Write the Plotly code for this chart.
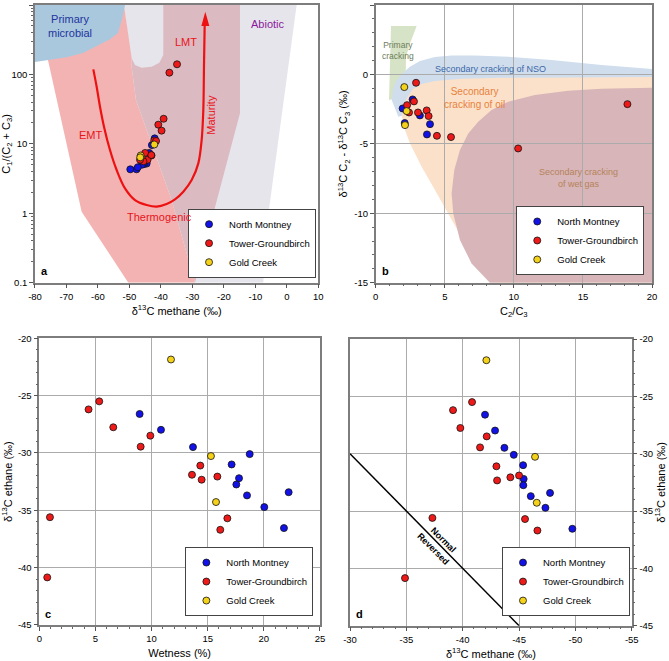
import math
import plotly.graph_objects as go

FONT = "Liberation Sans, Arial, sans-serif"

# ---------------- data ----------------
groups = ["North Montney", "Tower-Groundbirch", "Gold Creek"]
group_colors = ["#1212e8", "#ee1a1a", "#f5d21a"]

# North Montney
nm_wetness = [8.94, 10.84, 13.69, 18.74, 17.13, 17.79, 17.55, 22.21, 18.5, 20.04, 21.79]
nm_c1 = [-41.98, -42.87, -43.7, -44.53, -45.36, -45.41, -45.38, -47.75, -46.04, -47.34, -49.73]
nm_c2 = [-26.6, -27.98, -29.49, -30.1, -31.0, -32.2, -32.75, -33.42, -33.7, -34.72, -36.55]
nm_ratio = [12.0, 9.6, 7.4, 5.2, 5.4, 5.1, 5.3, 4.3, 5.0, 4.6, 4.3]

# Tower-Groundbirch
tg_wetness = [5.34, 4.39, 6.59, 9.89, 9.03, 14.34, 13.6, 15.86, 14.46, 0.95, 16.75, 16.12, 0.71]
tg_c1 = [-40.83, -39.14, -39.79, -42.13, -41.54, -42.99, -45.0, -44.23, -43.05, -37.31, -45.53, -46.63, -34.88]
tg_c2 = [-25.5, -26.2, -27.76, -28.49, -29.45, -31.1, -31.9, -32.06, -32.33, -35.6, -35.7, -36.7, -40.85]
tg_ratio = [18.9, 23.0, 15.5, 11.2, 11.0, 6.8, 7.4, 5.9, 6.9, 106.0, 5.6, 5.9, 140.0]

# Gold Creek
gc_wetness = [11.73, 15.29, 15.74]
gc_c1 = [-42.1, -46.42, -46.57]
gc_c2 = [-21.85, -30.27, -34.28]
gc_ratio = [9.8, 6.8, 6.4]

# panel b: C2/C3 and d13C C2 - d13C C3
nm_c2c3 = [2.67, 1.95, 3.2, 3.93, 2.1, 3.71]
nm_dc2c3 = [-1.8, -2.45, -2.95, -3.58, -3.5, -4.32]
tg_c2c3 = [2.92, 2.77, 2.27, 2.41, 3.06, 3.69, 3.83, 4.43, 5.45, 10.31, 18.22]
tg_dc2c3 = [-0.6, -1.94, -2.21, -2.74, -2.74, -2.59, -3.0, -4.42, -4.51, -5.33, -2.14]
gc_c2c3 = [2.07, 2.24, 2.12]
gc_dc2c3 = [-0.91, -2.64, -3.65]

# tick values / labels (hyphen-minus as in the original)
a_xticks = [-80, -70, -60, -50, -40, -30, -20, -10, 0, 10]
a_yticks = [0.1, 1, 10, 100, 1000]
a_ylabels = ["0.1", "1", "10", "100", "1000"]
b_xticks = [0, 5, 10, 15, 20]
b_yticks = [5, 0, -5, -10, -15]
c_xticks = [0, 5, 10, 15, 20, 25]
cd_yticks = [-20, -25, -30, -35, -40, -45]
d_xticks = [-30, -35, -40, -45, -50, -55]

# ---------------- genetic fields (panel a: d13C methane, C1/(C2+C3)) ----------------
microbial_x = [-80, -51.41, -52.15, -53.63, -56.18, -58.4, -61.47, -64.75, -69.94, -75.24, -80]
microbial_y = [1000, 1000, 679, 395, 320, 283.6, 237.6, 203.5, 176.2, 161.3, 151]

abiotic_x = [-51.73, 3.12, -6.41, -7.47, -29.18, -36.59, -47.92, -49.29]
abiotic_y = [1000, 1000, 0.641, 0.1, 0.1, 1.552, 42.8, 129.3]

thermo_x = [-79.47, -51.73, -49.29, -49.29, -47.92, -36.59, -29.18, -50.35, -65.18, -75.76]
thermo_y = [1000, 1000, 170.5, 129.3, 42.8, 1.552, 0.1, 0.1, 1.054, 152.7]

lmt_x = [-49.29, -48.23, -46.12, -42.94, -40.51, -39.24, -39.24, -14.88, -14.88, -29.18, -36.59, -47.92, -49.29]
lmt_y = [170.5, 136.7, 125.1, 129.3, 147.7, 190.4, 1000, 1000, 27.5, 0.1, 1.552, 42.8, 129.3]

maturity_x = [-61.47, -60.41, -59.35, -58.08, -56.18, -54.06, -51.41, -48.23, -44.53, -41.35,
              -38.18, -35.53, -32.88, -30.23, -28.12, -27.06, -26.53, -26.32, -26.1]
maturity_y = [118.4, 66.6, 34.3, 17.7, 8.15, 4.2, 2.285, 1.55, 1.315, 1.244,
              1.36, 1.587, 2.046, 3.01, 5.24, 11.36, 30.7, 129.3, 515]
arrow_x = [-27.16, -24.62, -25.9]
arrow_y = [498, 498, 802]

# ---------------- panel b fields (C2/C3, dC2-dC3) ----------------
primary_x = [1.108, 2.964, 2.482, 2.193, 2.169, 1.88, 0.964]
primary_y = [3.48, 3.48, 2.233, 1.273, -0.168, -1.6, -1.849]

nso_x = [1.157, 1.25, 1.45, 1.88, 2.482, 3.205, 4.289, 5.494, 7.181, 9.59, 12.72, 16.34, 20,
         20, 3.084, 2.12, 1.639]
nso_y = [-1.849, -1.1, -0.5, 0.024, 0.552, 0.96, 1.249, 1.369, 1.369, 1.273, 1.032, 0.672, 0.384,
         -0.408, -0.888, -2.929, -3.049]

oil_x = [1.88, 2.169, 2.651, 3.325, 4.289, 6.217, 9.108, 13.928, 20, 20,
         8.265, 6.699, 5.373, 4.289, 3.325, 2.482, 2.12]
oil_y = [-2.929, -1.849, -1.08, -0.696, -0.48, -0.312, -0.24, -0.216, -0.192, -15,
         -15, -12.533, -10.252, -8.331, -6.651, -4.97, -4.01]

wetgas_x = [20, 16.34, 13.93, 11.52, 9.59, 8.386, 7.422, 6.699, 6.096, 5.687, 5.494,
            5.614, 6.096, 6.94, 8.265, 20]
wetgas_y = [-0.96, -1.032, -1.176, -1.489, -1.969, -2.569, -3.41, -4.25, -5.45, -6.891, -8.571,
            -10.012, -11.933, -13.613, -15, -15]

# panel d: normal/reversed boundary (C1 = C2)
boundary_c1 = [-30, -45]
boundary_c2 = [-30, -45]

# ---------------- figure ----------------
fig = go.Figure()


def region(xs, ys, color, xa="x", ya="y"):
    fig.add_trace(go.Scatter(x=xs, y=ys, mode="lines", fill="toself", fillcolor=color,
                             line=dict(width=0, color=color), hoverinfo="skip",
                             showlegend=False, xaxis=xa, yaxis=ya))


region(abiotic_x, abiotic_y, "#e6e5ec")
region(thermo_x, thermo_y, "#f3b3b3")
region(lmt_x, lmt_y, "#dcbac1")
region(microbial_x, microbial_y, "#a9c8de")

fig.add_trace(go.Scatter(x=maturity_x, y=maturity_y, mode="lines",
                         line=dict(color="#ee1111", width=2.2, shape="spline"),
                         hoverinfo="skip", showlegend=False, xaxis="x", yaxis="y"))
region(arrow_x, arrow_y, "#ee1111")


def path(xs, ys):
    return "M " + " L ".join(f"{a},{b}" for a, b in zip(xs, ys)) + " Z"


shapes = []
for xs, ys, col in [(primary_x, primary_y, "#d6e3c6"), (nso_x, nso_y, "#cfdded"),
                    (oil_x, oil_y, "#fbe1ca"), (wetgas_x, wetgas_y, "#d8b5b8")]:
    shapes.append(dict(type="path", path=path(xs, ys), xref="x2", yref="y2",
                       fillcolor=col, line=dict(width=0), layer="below"))

panel_series = {
    "a": [(nm_c1, nm_ratio), (tg_c1, tg_ratio), (gc_c1, gc_ratio)],
    "b": [(nm_c2c3, nm_dc2c3), (tg_c2c3, tg_dc2c3), (gc_c2c3, gc_dc2c3)],
    "c": [(nm_wetness, nm_c2), (tg_wetness, tg_c2), (gc_wetness, gc_c2)],
    "d": [(nm_c1, nm_c2), (tg_c1, tg_c2), (gc_c1, gc_c2)],
}
axes_of = {"a": ("x", "y", "legend"), "b": ("x2", "y2", "legend2"),
           "c": ("x3", "y3", "legend3"), "d": ("x4", "y4", "legend4")}

fig.add_trace(go.Scatter(x=boundary_c1, y=boundary_c2, mode="lines",
                         line=dict(color="black", width=1.5), hoverinfo="skip",
                         showlegend=False, xaxis="x4", yaxis="y4"))

for p, series in panel_series.items():
    xa, ya, lg = axes_of[p]
    for (xs, ys), name, col in zip(series, groups, group_colors):
        fig.add_trace(go.Scatter(x=xs, y=ys, mode="markers", name=name,
                                 marker=dict(size=7, color=col, line=dict(color="#111", width=0.8)),
                                 xaxis=xa, yaxis=ya, legend=lg))

common = dict(showline=True, linecolor="#7d7d7d", linewidth=1.5, mirror=True,
              ticks="outside", ticklen=4, tickcolor="#555", tickfont=dict(size=9.5, color="black"),
              zeroline=False, automargin=False)
title_font = dict(size=11, color="black", family=FONT)
gridc = "#ababab"
minor_lin = dict(ticks="outside", ticklen=2, tickcolor="#666", tickmode="linear", tick0=0, dtick=1,
                 showgrid=False)


def ticks(vals, labels=None):
    return dict(tickmode="array", tickvals=vals, ticktext=labels or [str(v) for v in vals])


fig.update_layout(
    width=669, height=661, margin=dict(l=0, r=0, t=0, b=0),
    template="none", paper_bgcolor="white", plot_bgcolor="white",
    font=dict(family=FONT, size=9, color="black"),
    shapes=shapes,
    xaxis=dict(domain=[0.0523, 0.4758], anchor="y", range=[-80, 10], **ticks(a_xticks),
               showgrid=False, title=dict(text="δ<sup>13</sup>C methane (‰)", font=title_font, standoff=6),
               **common),
    yaxis=dict(domain=[0.5723, 0.9924], anchor="x", type="log", range=[-1, 3],
               **ticks(a_yticks, a_ylabels),
               showgrid=False, minor=dict(ticks="outside", ticklen=2, tickcolor="#666", dtick="D1", showgrid=False),
               title=dict(text="C<sub>1</sub>/(C<sub>2</sub> + C<sub>3</sub>)", font=title_font, standoff=4),
               **common),
    xaxis2=dict(domain=[0.5616, 0.9746], anchor="y2", range=[0, 20], **ticks(b_xticks),
                showgrid=True, gridcolor=gridc, gridwidth=1, minor=minor_lin,
                title=dict(text="C<sub>2</sub>/C<sub>3</sub>", font=title_font, standoff=6), **common),
    yaxis2=dict(domain=[0.5723, 0.9924], anchor="x2", range=[-15, 5], **ticks(b_yticks),
                showgrid=True, gridcolor=gridc, gridwidth=1, minor=minor_lin,
                title=dict(text="δ<sup>13</sup>C C<sub>2</sub> - δ<sup>13</sup>C C<sub>3</sub> (‰)",
                           font=title_font, standoff=4), **common),
    xaxis3=dict(domain=[0.0587, 0.4783], anchor="y3", range=[0, 25], **ticks(c_xticks),
                showgrid=True, gridcolor=gridc, gridwidth=1, minor=minor_lin,
                title=dict(text="Wetness (%)", font=title_font, standoff=6), **common),
    yaxis3=dict(domain=[0.0545, 0.4882], anchor="x3", range=[-45, -20], **ticks(cd_yticks),
                showgrid=True, gridcolor=gridc, gridwidth=1, minor=minor_lin,
                title=dict(text="δ<sup>13</sup>C ethane (‰)", font=title_font, standoff=4), **common),
    xaxis4=dict(domain=[0.5232, 0.9443], anchor="y4", range=[-30, -55], **ticks(d_xticks),
                showgrid=True, gridcolor=gridc, gridwidth=1, minor=minor_lin,
                title=dict(text="δ<sup>13</sup>C methane (‰)", font=title_font, standoff=6), **common),
    yaxis4=dict(domain=[0.0534, 0.4871], anchor="x4", range=[-45, -20], **ticks(cd_yticks), side="right",
                showgrid=True, gridcolor=gridc, gridwidth=1, minor=minor_lin,
                title=dict(text="δ<sup>13</sup>C ethane (‰)", font=title_font, standoff=4), **common),
)

leg = dict(xanchor="right", yanchor="bottom", bgcolor="white", bordercolor="#444",
           borderwidth=1, font=dict(size=9.5, family=FONT, color="black"), tracegroupgap=0,
           itemwidth=30)
fig.update_layout(
    legend=dict(x=0.4724, y=0.5799, **leg),
    legend2=dict(x=0.963, y=0.584, **leg),
    legend3=dict(x=0.4684, y=0.068, **leg),
    legend4=dict(x=0.9417, y=0.068, **leg),
)

ann = []


def label(text, x, y, color, size, xref="x", yref="y", angle=0, bold=False):
    t = f"<b>{text}</b>" if bold else text
    ann.append(dict(text=t, x=x, y=y, xref=xref, yref=yref, showarrow=False, textangle=angle,
                    font=dict(size=size, color=color, family=FONT)))


L = math.log10
label("Primary<br>microbial", -68.8, L(493), "#22349c", 11)
label("LMT", -32.0, L(297), "#e8141b", 11)
label("EMT", -62.3, L(13.4), "#e8141b", 11)
label("Thermogenic", -40.5, L(0.893), "#e8141b", 11)
label("Maturity", -24.2, L(26), "#e8141b", 11, angle=-90)
label("Abiotic", -6.1, L(532), "#8a1a9a", 11)

label("Primary<br>cracking", 1.64, 1.70, "#6e7d5a", 8.5, "x2", "y2")
label("Secondary cracking of NSO", 8.31, 0.36, "#3d68a8", 9, "x2", "y2")
label("Secondary<br>cracking of oil", 7.18, -1.73, "#e8823c", 10, "x2", "y2")
label("Secondary cracking<br>of wet gas", 14.7, -7.49, "#b5835a", 9, "x2", "y2")

label("Normal", -38.3, -37.5, "black", 9, "x4", "y4", angle=45, bold=True)
label("Reversed", -37.4, -38.3, "black", 9, "x4", "y4", angle=45, bold=True)

for letter, xr, yr in [("a", "x domain", "y domain"), ("b", "x2 domain", "y2 domain"),
                       ("c", "x3 domain", "y3 domain"), ("d", "x4 domain", "y4 domain")]:
    ann.append(dict(text=f"<b>{letter}</b>", x=0.015, y=0.012, xref=xr, yref=yr,
                    xanchor="left", yanchor="bottom", showarrow=False,
                    font=dict(size=11, color="black", family=FONT)))

fig.update_layout(annotations=ann)
fig.write_html("out.html", config={"displayModeBar": False},
               post_script="document.body.style.margin='0';document.body.style.padding='0';"
                           "document.body.style.overflow='hidden';")
